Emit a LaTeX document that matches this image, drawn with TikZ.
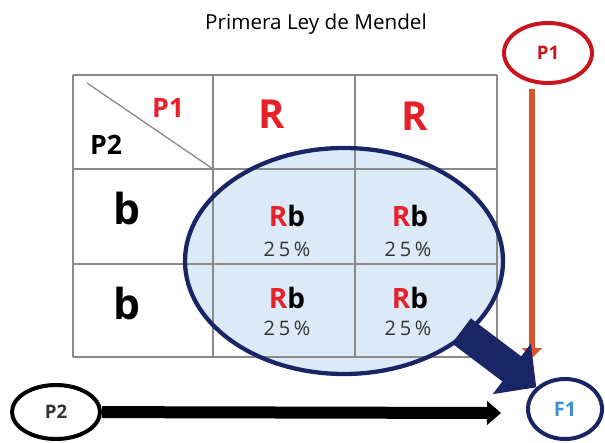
\documentclass[tikz,border=0pt]{standalone}
\usepackage{fontspec}
\setmainfont{Open Sans}
\newfontfamily\pctfont[LetterSpace=18]{Open Sans}
\usetikzlibrary{shapes.geometric,arrows.meta}
\definecolor{mred}{HTML}{E62129}
\definecolor{pred}{HTML}{C8161E}
\definecolor{orng}{HTML}{D9542A}
\definecolor{navy}{HTML}{1A2566}
\definecolor{lblue}{HTML}{DCEAF7}
\definecolor{fblue}{HTML}{3B8FDB}
\definecolor{gridgray}{HTML}{8A8A8A}
\definecolor{dgray}{HTML}{333333}
\newcommand{\Rb}{\textcolor{mred}{R}b}

\begin{document}
\begin{tikzpicture}[x=0.75pt,y=-0.75pt,grd/.style={draw=gridgray,line width=1.4pt},hdr/.style={text=mred,font=\fontsize{30}{30}\selectfont\bfseries},par/.style={font=\fontsize{20}{21}\selectfont\bfseries},gam/.style={font=\fontsize{32}{32}\selectfont\bfseries},geno/.style={font=\fontsize{21}{22}\selectfont\bfseries},pct/.style={text=dgray,font=\fontsize{15}{16}\selectfont\pctfont},oval/.style={draw,ellipse,line width=3pt,inner sep=0pt,font=\fontsize{14}{15}\selectfont\bfseries}]

\useasboundingbox (0,0) rectangle (605,442);

%title
\node[font=\fontsize{15.5}{16}\selectfont] (title) at (316,24) {Primera Ley de Mendel};

%offspring ellipse, fill only
\node[ellipse,fill=lblue,inner sep=0pt,minimum width=238.5pt,minimum height=169.5pt] (off) at (344,261) {};

%punnett grid
\foreach \x in {73,213,355,497} \draw[grd] (\x,75) -- (\x,357);
\foreach \y in {75,169,264,357} \draw[grd] (73,\y) -- (497,\y);
\draw[gridgray,line width=1pt] (87,83) -- (213,169);

%offspring ellipse border
\node[ellipse,draw=navy,line width=3.2pt,inner sep=0pt,minimum width=238.5pt,minimum height=169.5pt] (offb) at (off) {};

%headers
\node[par,text=mred] (h1) at (168,108) {P1};
\node[par] (h2) at (106,145) {P2};
\node[hdr] (R1) at (272,114) {R};
\node[hdr] (R2) at (415,116) {R};
\node[gam] (b1) at (127,208) {b};
\node[gam] (b2) at (127,303) {b};

%genotypes
\node[geno] (g11) at (287,216) {\Rb};
\node[pct] (p11) at (287,249) {25\%};
\node[geno] (g12) at (410,216) {\Rb};
\node[pct] (p12) at (408,249) {25\%};
\node[geno] (g21) at (287,298) {\Rb};
\node[pct] (p21) at (287,328) {25\%};
\node[geno] (g22) at (410,298) {\Rb};
\node[pct] (p22) at (408,328) {25\%};

%parents and F1
\node[oval,draw=pred,text=pred,minimum width=66pt,minimum height=45pt] (P1) at (548,53) {P1};
\node[oval,draw=black,text=dgray,minimum width=66pt,minimum height=40.5pt] (P2) at (56,412) {P2};
\node[oval,draw=navy,text=fblue,font=\fontsize{15}{16}\selectfont\bfseries,minimum width=55.5pt,minimum height=45pt] (F1) at (565,409) {F1};

%arrows
\coordinate (oend) at (532,358);
\coordinate (bend) at (501,413);
\draw[orng,line width=5pt,-{Triangle[length=7.5pt,width=15pt]}] ([yshift=-3pt]P1.south -| oend) -- (oend);
\draw[black,line width=9pt,-{Triangle[length=10.5pt,width=17.5pt]}] (P2) -- (bend);
\draw[navy,line width=23.5pt,shorten <=-4pt,-{Triangle[length=23pt,width=46pt]}] (off.-31) -- (F1);
\end{tikzpicture}
\end{document}
